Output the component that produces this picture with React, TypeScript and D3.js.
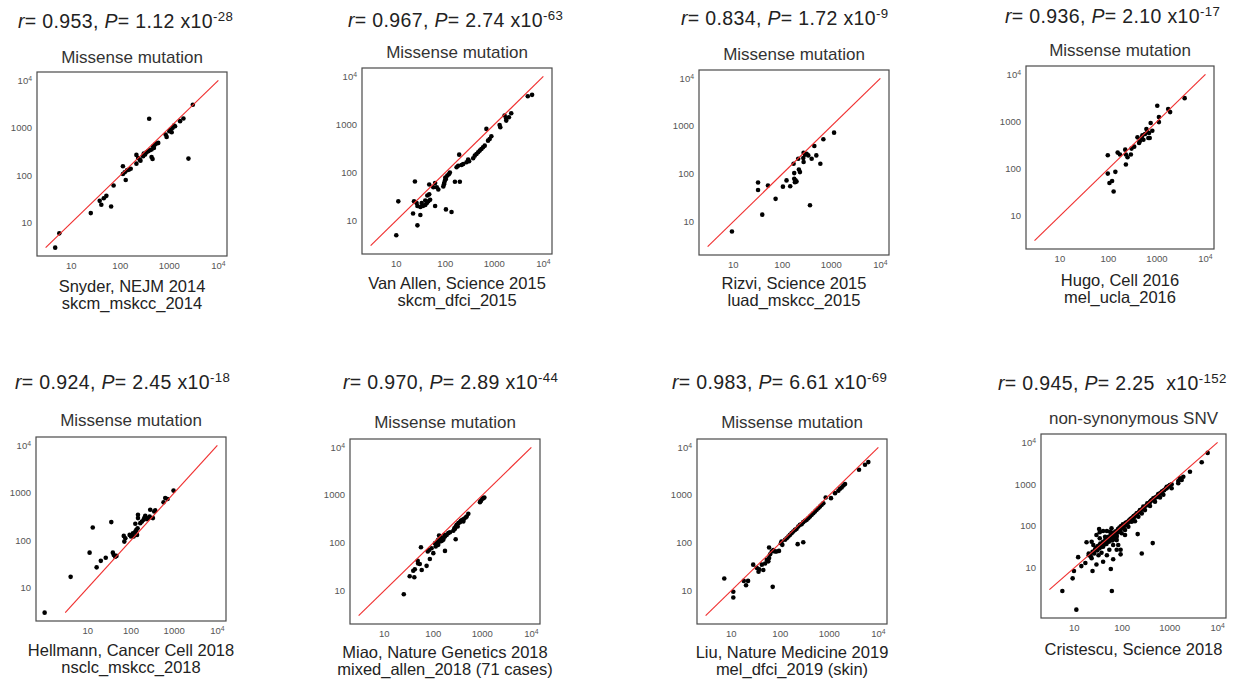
import React from "react";
import * as d3 from "d3";

// panel texts
const titles = [
  "Missense mutation", "Missense mutation", "Missense mutation", "Missense mutation",
  "Missense mutation", "Missense mutation", "Missense mutation", "non-synonymous SNV",
];
const studies = [
  "Snyder, NEJM 2014", "Van Allen, Science 2015", "Rizvi, Science 2015", "Hugo, Cell 2016",
  "Hellmann, Cancer Cell 2018", "Miao, Nature Genetics 2018", "Liu, Nature Medicine 2019",
  "Cristescu, Science 2018",
];
const cohorts = [
  "skcm_mskcc_2014", "skcm_dfci_2015", "luad_mskcc_2015", "mel_ucla_2016",
  "nsclc_mskcc_2018", "mixed_allen_2018 (71 cases)", "mel_dfci_2019 (skin)", "",
];
const rValues = ["0.953", "0.967", "0.834", "0.936", "0.924", "0.970", "0.983", "0.945"];
const pMantissa = ["1.12", "2.74", "1.72", "2.10", "2.45", "2.89", "6.61", "2.25 "];
const pExponent = ["-28", "-63", "-9", "-17", "-18", "-44", "-69", "-152"];

const tickValues = [10, 100, 1000, 10000];
const tickLabels = ["10", "100", "1000", "10^4"];
const identityRange = [3, 10000];

type Pt = [number, number];

const snyderData: Pt[] = [
  [4.7, 3], [5.7, 6], [25, 16], [38, 29], [41, 24], [46, 33], [52, 37], [65, 22], [73, 61],
  [113, 155], [113, 107], [123, 116], [129, 80], [137, 128], [151, 132], [163, 138],
  [213, 176], [213, 269], [231, 232], [250, 214], [258, 204], [292, 252], [302, 287],
  [321, 274], [342, 306], [370, 321], [388, 1549], [401, 337], [434, 349], [434, 244],
  [455, 221], [469, 410], [484, 378], [508, 444], [550, 467], [594, 482], [841, 723],
  [881, 645], [1000, 851], [1065, 923], [1117, 810], [1170, 1000], [1247, 1120],
  [1307, 1084], [1656, 1384], [1940, 1574], [2455, 225], [3014, 3062],
];

const vanAllenData: Pt[] = [
  [10, 4.9], [11, 25], [24, 65], [23, 25], [22, 14], [27, 7.9], [31, 13], [27, 20], [31, 19],
  [35, 20], [39, 21], [42, 23], [45, 25], [49, 27], [26, 23], [33, 23], [39, 26], [43, 33],
  [47, 35], [62, 20], [47, 56], [57, 49], [62, 60], [67, 49], [72, 44], [91, 51], [94, 57],
  [95, 60], [98, 67], [100, 78], [103, 73], [110, 86], [118, 92], [124, 100], [103, 17],
  [134, 15], [157, 64], [198, 64], [170, 128], [192, 235], [183, 138], [214, 143], [232, 150],
  [271, 163], [292, 185], [306, 171], [370, 197], [399, 224], [432, 243], [467, 263],
  [505, 285], [545, 309], [589, 334], [637, 362], [689, 807], [744, 460], [804, 499],
  [869, 567], [1282, 977], [1324, 874], [1620, 1532], [1750, 1347], [1982, 1413],
  [1750, 1204], [2212, 1713], [4813, 3880], [5885, 4138],
];

const rizviData: Pt[] = [
  [9.4, 6.2], [32, 66], [32, 46], [39, 14], [51, 57], [73, 30], [103, 54], [122, 73], [145, 55],
  [170, 163], [175, 104], [175, 79], [181, 67], [195, 69], [186, 73], [211, 208], [218, 124],
  [229, 109], [268, 214], [272, 177], [272, 278], [290, 252], [313, 265], [339, 244],
  [367, 22], [397, 208], [450, 384], [494, 244], [597, 163], [688, 530], [1137, 731],
];

const hugoData: Pt[] = [
  [97, 193], [97, 79], [105, 50], [119, 55], [139, 86], [128, 33], [155, 220], [173, 200],
  [222, 254], [229, 200], [229, 123], [248, 175], [290, 200], [299, 267], [340, 294],
  [397, 463], [429, 352], [443, 381], [487, 448], [502, 510], [526, 413], [569, 545],
  [606, 694], [635, 600], [666, 448], [709, 448], [743, 929], [803, 640], [687, 571],
  [1016, 2153], [1099, 1242], [1099, 974], [1703, 1833], [1871, 1585], [3725, 3126],
];

const hellmannData: Pt[] = [
  [1.0, 3.0], [4.0, 17], [11, 55], [13, 186], [16, 27], [20, 37], [26, 43], [35, 242], [38, 55],
  [40, 49], [43, 45], [46, 47], [68, 124], [70, 94], [74, 111], [93, 130], [100, 120],
  [111, 141], [115, 120], [126, 153], [133, 166], [138, 130], [126, 223], [142, 180],
  [145, 345], [145, 294], [164, 230], [179, 249], [196, 271], [203, 294], [214, 329],
  [234, 280], [256, 294], [270, 318], [279, 441], [322, 294], [345, 406], [364, 427],
  [567, 630], [620, 779], [702, 741], [966, 1114],
];

const miaoData: Pt[] = [
  [25, 8.4], [33, 20], [41, 19], [39, 26], [42, 28], [48, 42], [49, 37], [53, 36], [58, 27],
  [56, 81], [73, 33], [85, 46], [77, 66], [82, 71], [92, 77], [100, 61], [112, 84], [123, 110],
  [137, 136], [148, 125], [160, 116], [168, 147], [173, 68], [131, 143], [286, 119],
  [108, 98], [117, 103], [126, 91], [137, 107], [148, 110], [160, 125], [173, 136],
  [187, 147], [202, 160], [219, 167], [126, 116], [143, 121], [256, 179], [269, 203],
  [286, 220], [300, 239], [324, 259], [350, 272], [366, 290], [390, 304], [409, 281],
  [425, 319], [457, 340], [479, 357], [518, 406], [277, 197], [314, 220], [895, 713],
  [940, 760], [1000, 838], [1050, 865], [1100, 893],
];

const liuData: Pt[] = [
  [7.2, 18], [11, 9.5], [11, 7.2], [18, 16], [20, 13], [22, 16], [28, 35], [33, 30], [36, 25],
  [37, 28], [42, 35], [45, 27], [49, 37], [53, 44], [57, 41], [59, 48], [62, 58], [59, 80],
  [67, 66], [72, 71], [78, 66], [84, 66], [94, 68], [70, 12], [103, 98], [106, 107], [110, 91],
  [125, 116], [135, 125], [146, 136], [157, 147], [170, 160], [184, 173], [226, 94],
  [294, 103], [199, 187], [215, 197], [233, 220], [252, 239], [272, 247], [294, 272],
  [319, 290], [345, 304], [373, 329], [403, 357], [436, 387], [471, 419], [510, 454],
  [551, 492], [597, 533], [645, 578], [698, 627], [755, 679], [842, 893], [1081, 865],
  [1306, 1101], [1527, 1233], [1652, 1358], [1786, 1449], [1932, 1596], [2089, 1702],
  [4030, 3399], [5343, 4325], [6246, 4920],
];

const cristescuData: Pt[] = [
  [11, 1.0], [5.6, 2.8], [61, 2.8], [9.2, 5.6], [9.8, 8.4], [12, 18], [18, 41], [33, 85],
  [24, 8.4], [58, 9.4], [40, 14], [65, 16], [93, 21], [93, 27], [212, 64], [438, 39],
  [258, 22], [115, 61], [17, 13], [14, 11], [29, 12], [23, 17], [20, 20], [32, 20], [37, 23],
  [48, 20], [54, 27], [27, 27], [25, 35], [40, 32], [65, 35], [77, 46], [56, 46], [44, 55],
  [34, 51], [71, 67], [90, 80], [56, 73], [48, 76],
  [106, 96], [125, 116], [146, 139], [172, 167], [202, 201], [237, 241], [278, 290],
  [337, 349], [416, 419], [530, 502], [675, 605], [859, 798], [1092, 994], [1503, 1191],
  [1914, 1510], [159, 127], [219, 167], [301, 240], [384, 300], [489, 380], [622, 480],
  [731, 560], [258, 200], [186, 130], [135, 96], [115, 80], [77, 55], [98, 67], [65, 51],
  [83, 35], [48, 41], [77, 27], [34, 35],
  [29, 61], [23, 42], [34, 71], [40, 76], [60, 88],
  [20, 22], [22, 19], [24, 24], [26, 22], [28, 30], [30, 26], [31, 33], [33, 29], [35, 38],
  [36, 31], [38, 34], [40, 42], [42, 36], [44, 40], [45, 48], [47, 37], [50, 45], [52, 55],
  [53, 42], [55, 50], [58, 62], [60, 52], [62, 45], [64, 60], [66, 70], [68, 55], [70, 62],
  [72, 48], [74, 75], [76, 60], [80, 70], [82, 85], [85, 72], [88, 92], [92, 80], [95, 100],
  [100, 88], [104, 110], [108, 95], [112, 104], [118, 120], [122, 108], [128, 125],
  [132, 118], [138, 135], [145, 128], [150, 148], [155, 142], [162, 158], [168, 150],
  [175, 172], [180, 165], [190, 185], [196, 178], [210, 205], [225, 215], [245, 235],
  [265, 258], [290, 280], [320, 310], [350, 340], [370, 350], [400, 395], [440, 420],
  [480, 470], [520, 490], [560, 540], [600, 590], [640, 610], [700, 680], [760, 720],
  [820, 790], [950, 900],
  [6200, 5600], [4650, 3340], [2640, 1990], [1630, 1380], [1500, 1050], [1770, 1260],
  [1000, 956], [860, 871], [1090, 800], [675, 661], [573, 582], [451, 459], [384, 381],
];

const panelData = [
  snyderData, vanAllenData, rizviData, hugoData,
  hellmannData, miaoData, liuData, cristescuData,
];

// where each panel sits on the page
const layout = [
  { x: 37, y: 72, w: 190, h: 184, statX: 18, statY: 28, titleY: 63, labelY: 292 },
  { x: 362, y: 68, w: 190, h: 186, statX: 348, statY: 27, titleY: 58, labelY: 289 },
  { x: 699, y: 70, w: 190, h: 185, statX: 681, statY: 25, titleY: 60, labelY: 289 },
  { x: 1026, y: 66, w: 188, h: 183, statX: 1005, statY: 23, titleY: 56, labelY: 286 },
  { x: 36, y: 437, w: 190, h: 184, statX: 15, statY: 389, titleY: 426, labelY: 656 },
  { x: 350, y: 439, w: 190, h: 185, statX: 343, statY: 389, titleY: 428, labelY: 658 },
  { x: 697, y: 439, w: 190, h: 185, statX: 672, statY: 389, titleY: 428, labelY: 658 },
  { x: 1041, y: 434, w: 185, h: 184, statX: 998, statY: 390, titleY: 424, labelY: 655 },
];

const font = "'Liberation Sans', Arial, Helvetica, sans-serif";

// matplotlib-like autoscale: data + identity line, 5% margin in log space
function logDomain(vals: number[]): [number, number] {
  const lo = Math.log10(Math.min(d3.min(vals) as number, identityRange[0]));
  const hi = Math.log10(Math.max(d3.max(vals) as number, identityRange[1]));
  const pad = (hi - lo) * 0.05;
  return [Math.pow(10, lo - pad), Math.pow(10, hi + pad)];
}

function TickText({ label }: { label: string }) {
  if (label.includes("^")) {
    const [base, exp] = label.split("^");
    return (
      <>
        {base}
        <tspan dy="-0.45em" fontSize="0.72em">{exp}</tspan>
      </>
    );
  }
  return <>{label}</>;
}

function Panel({ i }: { i: number }) {
  const L = layout[i];
  const data = panelData[i];
  const x = d3.scaleLog().domain(logDomain(data.map((d) => d[0]))).range([0, L.w]);
  const y = d3.scaleLog().domain(logDomain(data.map((d) => d[1]))).range([L.h, 0]);
  const cx = L.x + L.w / 2;

  return (
    <g fontFamily={font}>
      <text
        x={L.statX}
        y={L.statY}
        fontSize={19.5}
        letterSpacing={0.35}
        fill="#222"
        fontWeight={300}
        style={{ whiteSpace: "pre" }}
      >
        <tspan fontStyle="italic">r</tspan>
        {"= " + rValues[i] + ", "}
        <tspan fontStyle="italic">P</tspan>
        {"= " + pMantissa[i] + " x10"}
        <tspan dy="-0.5em" fontSize="0.68em">{pExponent[i]}</tspan>
      </text>
      <text x={cx} y={L.titleY} textAnchor="middle" fontSize={17} fill="#333">
        {titles[i]}
      </text>
      <text x={cx} y={L.labelY} textAnchor="middle" fontSize={16.5} fill="#222">
        {studies[i]}
      </text>
      {cohorts[i] && (
        <text x={cx} y={L.labelY + 17} textAnchor="middle" fontSize={16.5} fill="#222">
          {cohorts[i]}
        </text>
      )}
      <g transform={`translate(${L.x},${L.y})`}>
        {tickValues.map((t, k) => (
          <text key={"y" + k} x={-5} y={y(t)} dy="0.35em" textAnchor="end" fontSize={9.5} fill="#555">
            <TickText label={tickLabels[k]} />
          </text>
        ))}
        {tickValues.map((t, k) => (
          <text key={"x" + k} x={x(t)} y={L.h + 13} textAnchor="middle" fontSize={9.5} fill="#555">
            <TickText label={tickLabels[k]} />
          </text>
        ))}
        {data.map((d, k) => (
          <circle key={k} cx={x(d[0])} cy={y(d[1])} r={2.3} fill="#000" />
        ))}
        <line
          x1={x(identityRange[0])}
          y1={y(identityRange[0])}
          x2={x(identityRange[1])}
          y2={y(identityRange[1])}
          stroke="#f03030"
          strokeWidth={1.15}
        />
        <rect width={L.w} height={L.h} fill="none" stroke="#4a4a4a" strokeWidth={1.2} />
      </g>
    </g>
  );
}

export default function App() {
  return (
    <svg
      width={1236}
      height={684}
      style={{ position: "absolute", left: 0, top: 0, background: "#fff" }}
    >
      {layout.map((_, i) => (
        <Panel key={i} i={i} />
      ))}
    </svg>
  );
}
